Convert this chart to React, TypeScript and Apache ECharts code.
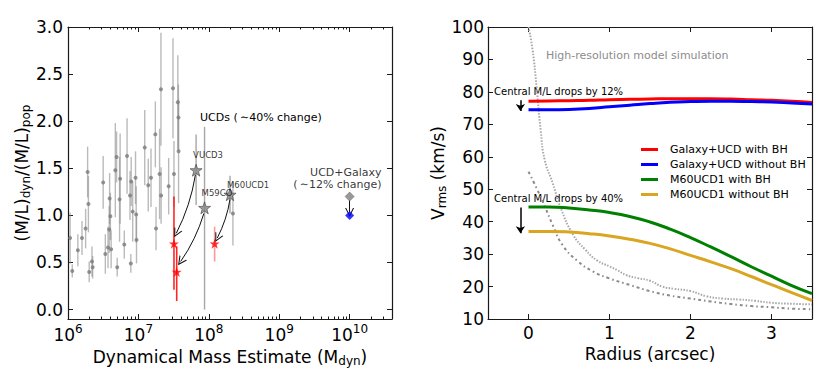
import React, { useEffect, useRef } from 'react';
import * as echarts from 'echarts';

const FONT = "'DejaVu Sans', sans-serif";

// ---------------- Left panel data ----------------
const ucdMass = [1.07e6, 1.15e6, 1.38e6, 1.58e6, 1.78e6, 1.9e6, 1.95e6, 2.0e6, 2.19e6, 2.24e6, 3.16e6, 3.39e6, 3.7e6, 3.9e6, 4.0e6, 4.1e6, 3.85e6, 4.7e6, 4.9e6, 5.0e6, 5.4e6, 5.5e6, 6.3e6, 6.9e6, 7.6e6, 7.8e6, 7.9e6, 8.3e6, 9.1e6, 9.3e6, 9.4e6, 1.23e7, 1.38e7, 1.51e7, 1.74e7, 1.78e7, 2.0e7, 2.09e7, 2.1e7, 2.69e7, 3.1e7, 3.2e7, 3.63e7, 3.7e7, 3.72e7, 2.2e8];
const ucdRatio = [0.76, 0.41, 0.63, 0.76, 0.86, 1.46, 1.12, 0.40, 0.51, 0.45, 1.35, 0.59, 0.66, 1.18, 0.99, 0.64, 0.85, 1.48, 1.62, 0.45, 1.17, 1.39, 0.69, 1.63, 1.21, 0.49, 1.36, 1.04, 1.40, 1.01, 0.74, 1.72, 1.32, 1.40, 1.86, 0.86, 1.44, 2.34, 1.21, 1.31, 2.35, 1.44, 2.2, 2.04, 1.68, 1.02];
const ucdErr = [0.27, 0.07, 0.17, 0.18, 0.21, 0.27, 0.3, 0.11, 0.16, 0.12, 0.28, 0.21, 0.22, 0.27, 0.25, 0.2, 0.25, 0.5, 0.27, 0.1, 0.45, 0.48, 0.15, 0.4, 0.26, 0.1, 0.26, 0.32, 0.28, 0.3, 0.25, 0.4, 0.28, 0.31, 0.35, 0.23, 0.48, 0.6, 0.3, 0.3, 0.53, 0.35, 0.5, 0.35, 0.55, 0.34];

const bhUcdNames = ['VUCD3', 'M59CO', 'M60UCD1'];
const noBhMass = [6.6e7, 8.7e7, 2.0e8];
const noBhRatio = [1.48, 1.08, 1.22];
const noBhErrLow = [0.37, 1.08, 0.2];
const noBhErrHigh = [0.38, 0.86, 0.2];
const withBhMass = [3.2e7, 3.5e7, 1.21e8];
const withBhRatio = [0.70, 0.40, 0.70];
const withBhErrLow = [0.49, 0.31, 0.19];
const withBhErrHigh = [0.50, 0.27, 0.18];
const ucdArrowFrom = [[6.45e7, 1.43], [8.5e7, 1.02], [2.0e8, 1.17]];
const ucdArrowTo = [[3.45e7, 0.81], [3.98e7, 0.51], [1.32e8, 0.76]];

const galaxyMass = [1e10];
const galaxyRatioNoBh = [1.2];
const galaxyRatioBh = [1.0];
const galaxyArrow = [[1e10, 1.16], [1e10, 1.03]];

const ratioTicks = [0, 0.5, 1.0, 1.5, 2.0, 2.5, 3.0];
const massMin = 1e6;
const massMax = 4e10;

// ---------------- Right panel data ----------------
const radius = [0, 0.25, 0.5, 0.75, 1.0, 1.25, 1.5, 1.75, 2.0, 2.25, 2.5, 2.75, 3.0, 3.25, 3.5];
const galaxyWithBh = [77.1, 77.2, 77.3, 77.4, 77.6, 77.7, 77.8, 77.9, 77.9, 77.9, 77.8, 77.6, 77.4, 77.1, 76.7];
const galaxyWithoutBh = [74.5, 74.5, 74.6, 74.9, 75.4, 75.9, 76.4, 76.8, 77.0, 77.1, 77.1, 77.0, 76.9, 76.6, 76.3];
const m60WithBh = [44.5, 44.5, 44.2, 43.6, 42.8, 41.6, 39.9, 37.7, 35.1, 32.2, 29.2, 26.1, 23.2, 20.3, 17.8];
const m60WithoutBh = [37.0, 37.0, 36.8, 36.3, 35.6, 34.6, 33.3, 31.6, 29.6, 27.6, 25.5, 23.1, 20.6, 18.1, 15.7];

const hiresGalaxyR = [0, 0.05, 0.1, 0.15, 0.2, 0.3, 0.4, 0.55, 0.7, 0.85, 1.0, 1.1, 1.2, 1.35, 1.5, 1.65, 1.8, 2.0, 2.2, 2.4, 2.6, 2.8, 3.0, 3.25, 3.5];
const hiresGalaxyV = [100, 93, 81.5, 68.2, 59, 51.8, 44.1, 36.0, 31.4, 28.0, 26.2, 25.0, 23.6, 22.6, 21.8, 20.0, 19.3, 18.6, 17.0, 16.3, 16.0, 15.6, 15.0, 14.7, 14.5];
const hiresUcdR = [0, 0.1, 0.2, 0.3, 0.42, 0.6, 0.8, 1.0, 1.25, 1.5, 1.75, 2.0, 2.25, 2.5, 2.75, 3.0, 3.25, 3.5];
const hiresUcdV = [55.4, 50.3, 44.8, 38.9, 32.8, 28.0, 24.6, 22.5, 20.5, 18.6, 17.2, 16.3, 15.4, 14.6, 14.0, 13.6, 13.2, 13.0];

const radiusTicks = [0, 1, 2, 3];
const dropArrow12 = [[-0.1, 77.4], [-0.1, 74.1]];
const dropArrow40 = [[-0.1, 44.4], [-0.1, 36.4]];

const legendNames = ['Galaxy+UCD with BH', 'Galaxy+UCD without BH', 'M60UCD1 with BH', 'M60UCD1 without BH'];

// ---------------- helpers ----------------
const STAR = 'path://M50,2 L61.8,36.2 L97.6,36.2 L68.9,57.6 L79.4,92.4 L50,71.5 L20.6,92.4 L31.1,57.6 L2.4,36.2 L38.2,36.2 Z';
const OPEN_ARROW = 'path://M0,10 L4,0 L8,10 L7,10 L4,2.6 L1,10 Z';

const minorLogTicks: number[] = [];
for (let e = 6; e <= 10; e++) {
  for (let k = 2; k <= 9; k++) {
    const v = k * Math.pow(10, e);
    if (v < massMax) minorLogTicks.push(Math.log10(v));
  }
}

const AX = '#1a1a1a';
const boxLine = { show: true, onZero: false, lineStyle: { color: AX, width: 1.2 } };
const noLine = { show: false, onZero: false };
const inTick = (len: number, extra: any = {}) => ({ show: true, inside: true, length: len, lineStyle: { color: AX, width: 1 }, ...extra });

function errRender(colorFn: (i: number) => string, width: number) {
  return (params: any, api: any) => {
    const x = api.value(0);
    const p1 = api.coord([x, api.value(1)]);
    const p2 = api.coord([x, api.value(2)]);
    return {
      type: 'line',
      shape: { x1: p1[0], y1: p1[1], x2: p2[0], y2: p2[1] },
      style: { stroke: colorFn(params.dataIndex), lineWidth: width },
    };
  };
}

function buildOption(): any {
  const supFmt = (v: number) => {
    const e = Math.log10(v);
    if (Math.abs(e - Math.round(e)) < 1e-6) return `{b|10}{s|${Math.round(e)}}`;
    return '';
  };
  const smoothCfg = { smooth: true };
  return {
    animation: false,
    backgroundColor: '#fff',
    textStyle: { fontFamily: FONT },
    grid: [
      { left: 68, top: 27, width: 324, height: 292 },
      { left: 488, top: 27, width: 324, height: 292 },
    ],
    legend: {
      data: legendNames,
      orient: 'vertical',
      left: 636,
      top: 139,
      itemWidth: 17,
      itemHeight: 3,
      itemGap: 4,
      icon: 'rect',
      textStyle: { fontSize: 11, fontFamily: FONT, color: '#000', padding: [0, 0, 0, 7] },
    },
    xAxis: [
      {
        type: 'log', logBase: 10, gridIndex: 0, min: massMin, max: massMax, position: 'bottom',
        axisLine: boxLine, axisTick: inTick(5), splitLine: { show: false },
        axisLabel: {
          formatter: supFmt, margin: 4, color: '#000', fontFamily: FONT,
          rich: {
            b: { fontSize: 17, fontFamily: FONT, color: '#000' },
            s: { fontSize: 12, fontFamily: FONT, color: '#000', padding: [0, 0, 12, 0] },
          },
        },
        name: 'Dynamical Mass Estimate (M{sub|dyn})', nameLocation: 'middle', nameGap: 23,
        nameTextStyle: {
          fontSize: 17, fontFamily: FONT, color: '#000',
          rich: { sub: { fontSize: 12, fontFamily: FONT, color: '#000', padding: [8, 0, 0, 0] } },
        },
      },
      {
        type: 'log', logBase: 10, gridIndex: 0, min: massMin, max: massMax, position: 'top',
        axisLine: boxLine, axisTick: inTick(5), axisLabel: { show: false }, splitLine: { show: false },
      },
      {
        type: 'value', gridIndex: 0, min: 6, max: Math.log10(massMax), position: 'bottom',
        axisLine: noLine, axisTick: inTick(2.5, { customValues: minorLogTicks }),
        axisLabel: { show: false }, splitLine: { show: false },
      },
      {
        type: 'value', gridIndex: 0, min: 6, max: Math.log10(massMax), position: 'top',
        axisLine: noLine, axisTick: inTick(2.5, { customValues: minorLogTicks }),
        axisLabel: { show: false }, splitLine: { show: false },
      },
      {
        type: 'value', gridIndex: 1, min: -0.5, max: 3.5, position: 'bottom',
        axisLine: boxLine, axisTick: inTick(5, { customValues: radiusTicks }), splitLine: { show: false },
        axisLabel: { customValues: radiusTicks, fontSize: 17, color: '#000', fontFamily: FONT, margin: 5 },
        name: 'Radius (arcsec)', nameLocation: 'middle', nameGap: 24,
        nameTextStyle: { fontSize: 17, fontFamily: FONT, color: '#000' },
      },
      {
        type: 'value', gridIndex: 1, min: -0.5, max: 3.5, position: 'top',
        axisLine: boxLine, axisTick: inTick(5, { customValues: radiusTicks }), axisLabel: { show: false }, splitLine: { show: false },
      },
    ],
    yAxis: [
      {
        type: 'value', gridIndex: 0, min: -0.1, max: 3.0, position: 'left',
        axisLine: boxLine, axisTick: inTick(5, { customValues: ratioTicks }), splitLine: { show: false },
        axisLabel: { customValues: ratioTicks, formatter: (v: number) => v.toFixed(1), fontSize: 17, color: '#000', fontFamily: FONT, margin: 5 },
        name: '(M/L){sub|dyn}/(M/L){sub|pop}', nameLocation: 'middle', nameGap: 25, nameRotate: 90,
        nameTextStyle: {
          fontSize: 17, fontFamily: FONT, color: '#000',
          rich: { sub: { fontSize: 12, fontFamily: FONT, color: '#000', padding: [8, 0, 0, 0] } },
        },
      },
      {
        type: 'value', gridIndex: 0, min: -0.1, max: 3.0, position: 'right',
        axisLine: boxLine, axisTick: inTick(5, { customValues: ratioTicks }), axisLabel: { show: false }, splitLine: { show: false },
      },
      {
        type: 'value', gridIndex: 1, min: 10, max: 100, interval: 10, position: 'left',
        axisLine: boxLine, axisTick: inTick(5), splitLine: { show: false },
        axisLabel: { fontSize: 17, color: '#000', fontFamily: FONT, margin: 4 },
        name: 'V{sub|rms} (km/s)', nameLocation: 'middle', nameGap: 25, nameRotate: 90,
        nameTextStyle: {
          fontSize: 17, fontFamily: FONT, color: '#000',
          rich: { sub: { fontSize: 12, fontFamily: FONT, color: '#000', padding: [8, 0, 0, 0] } },
        },
      },
      {
        type: 'value', gridIndex: 1, min: 10, max: 100, interval: 10, position: 'right',
        axisLine: boxLine, axisTick: inTick(5), axisLabel: { show: false }, splitLine: { show: false },
      },
    ],
    series: [
      // gray UCD error bars
      {
        type: 'custom', xAxisIndex: 0, yAxisIndex: 0, z: 2,
        data: ucdMass.map((m, i) => [m, ucdRatio[i] - ucdErr[i], ucdRatio[i] + ucdErr[i]]),
        encode: { x: 0, y: [1, 2] },
        renderItem: errRender(() => 'rgba(140,140,140,0.6)', 1.4),
      },
      {
        type: 'scatter', xAxisIndex: 0, yAxisIndex: 0, z: 3,
        symbol: 'circle', symbolSize: 4,
        itemStyle: { color: '#7a7a7a' },
        data: ucdMass.map((m, i) => [m, ucdRatio[i]]),
      },
      // error bars of the three BH UCDs without BH
      {
        type: 'custom', xAxisIndex: 0, yAxisIndex: 0, z: 2,
        data: noBhMass.map((m, i) => [m, noBhRatio[i] - noBhErrLow[i], noBhRatio[i] + noBhErrHigh[i]]),
        encode: { x: 0, y: [1, 2] },
        renderItem: errRender(() => 'rgba(130,130,130,0.7)', 1.4),
      },
      // red error bars
      {
        type: 'custom', xAxisIndex: 0, yAxisIndex: 0, z: 2,
        data: withBhMass.map((m, i) => [m, withBhRatio[i] - withBhErrLow[i], withBhRatio[i] + withBhErrHigh[i]]),
        encode: { x: 0, y: [1, 2] },
        renderItem: errRender((i) => (i === 2 ? 'rgba(255,0,0,0.4)' : 'rgba(255,0,0,0.85)'), 1.6),
      },
      // arrows UCD -> with BH
      {
        type: 'lines', coordinateSystem: 'cartesian2d', xAxisIndex: 0, yAxisIndex: 0, z: 4,
        symbol: ['none', OPEN_ARROW], symbolSize: [7, 9],
        lineStyle: { color: '#111', width: 1, opacity: 1, curveness: 0.08 },
        data: ucdArrowFrom.map((f, i) => ({ coords: [f, ucdArrowTo[i]] })),
      },
      {
        type: 'lines', coordinateSystem: 'cartesian2d', xAxisIndex: 0, yAxisIndex: 0, z: 4,
        symbol: ['none', OPEN_ARROW], symbolSize: [7, 9],
        lineStyle: { color: '#111', width: 1, opacity: 1, curveness: 0 },
        data: [{ coords: galaxyArrow }],
      },
      // gray stars
      {
        type: 'scatter', xAxisIndex: 0, yAxisIndex: 0, z: 5,
        symbol: STAR, symbolSize: 12,
        itemStyle: { color: '#858585', borderColor: '#444', borderWidth: 0.8 },
        label: {
          show: true, formatter: '{b}', position: 'top', align: 'left', distance: 4,
          fontSize: 8.5, fontFamily: FONT, color: '#000',
        },
        data: noBhMass.map((m, i) => ({
          name: bhUcdNames[i],
          value: [m, noBhRatio[i]],
          label: { offset: i === 2 ? [-3, 5] : [-3, 0] },
        })),
      },
      // red stars
      {
        type: 'scatter', xAxisIndex: 0, yAxisIndex: 0, z: 5,
        symbol: STAR, symbolSize: 10,
        itemStyle: { color: '#ff0000' },
        data: withBhMass.map((m, i) => [m, withBhRatio[i]]),
      },
      // galaxy diamonds
      {
        type: 'scatter', xAxisIndex: 0, yAxisIndex: 0, z: 5,
        symbol: 'diamond', symbolSize: 9,
        itemStyle: { color: '#808080', borderColor: '#555', borderWidth: 0.6 },
        label: {
          show: true, formatter: 'UCD+Galaxy\n(\u2009\u223c12% change)', position: 'top', align: 'right',
          offset: [32, 4], fontSize: 11, fontFamily: FONT, color: '#000', lineHeight: 12,
        },
        data: galaxyMass.map((m, i) => [m, galaxyRatioNoBh[i]]),
      },
      {
        type: 'scatter', xAxisIndex: 0, yAxisIndex: 0, z: 5,
        symbol: 'diamond', symbolSize: 9,
        itemStyle: { color: '#0000ff' },
        data: galaxyMass.map((m, i) => [m, galaxyRatioBh[i]]),
      },

      // ----- right panel -----
      {
        type: 'line', xAxisIndex: 4, yAxisIndex: 2, z: 2, ...smoothCfg, showSymbol: false,
        lineStyle: { color: '#a8a8a8', width: 2, type: [1.5, 1.5] },
        data: hiresGalaxyR.map((r, i) => [r, hiresGalaxyV[i]]),
      },
      {
        type: 'line', xAxisIndex: 4, yAxisIndex: 2, z: 2, ...smoothCfg, showSymbol: false,
        lineStyle: { color: '#8a8a8a', width: 2, type: [3, 3, 1.5, 3] },
        data: hiresUcdR.map((r, i) => [r, hiresUcdV[i]]),
      },
      {
        name: legendNames[0], type: 'line', xAxisIndex: 4, yAxisIndex: 2, z: 3, ...smoothCfg, showSymbol: false,
        itemStyle: { color: '#ff0000' }, lineStyle: { color: '#ff0000', width: 3 },
        data: radius.map((r, i) => [r, galaxyWithBh[i]]),
      },
      {
        name: legendNames[1], type: 'line', xAxisIndex: 4, yAxisIndex: 2, z: 3, ...smoothCfg, showSymbol: false,
        itemStyle: { color: '#0000ff' }, lineStyle: { color: '#0000ff', width: 3 },
        data: radius.map((r, i) => [r, galaxyWithoutBh[i]]),
      },
      {
        name: legendNames[2], type: 'line', xAxisIndex: 4, yAxisIndex: 2, z: 3, ...smoothCfg, showSymbol: false,
        itemStyle: { color: '#008000' }, lineStyle: { color: '#008000', width: 3 },
        data: radius.map((r, i) => [r, m60WithBh[i]]),
      },
      {
        name: legendNames[3], type: 'line', xAxisIndex: 4, yAxisIndex: 2, z: 3, ...smoothCfg, showSymbol: false,
        itemStyle: { color: '#daa520' }, lineStyle: { color: '#daa520', width: 3 },
        data: radius.map((r, i) => [r, m60WithoutBh[i]]),
      },
      {
        type: 'lines', coordinateSystem: 'cartesian2d', xAxisIndex: 4, yAxisIndex: 2, z: 4,
        symbol: ['none', 'arrow'], symbolSize: [5, 7],
        lineStyle: { color: '#000', width: 1.5, opacity: 1, curveness: 0 },
        data: [{ coords: dropArrow12 }, { coords: dropArrow40 }],
      },
    ],
    graphic: [
      {
        type: 'text', x: 200, y: 117,
        style: { text: 'UCDs (\u2009\u223c40% change)', fontSize: 11, fontFamily: FONT, fill: '#000', verticalAlign: 'middle' },
      },
      {
        type: 'text', x: 546, y: 55,
        style: { text: 'High-resolution model simulation', fontSize: 11, fontFamily: FONT, fill: '#8c8c8c', verticalAlign: 'middle' },
      },
      {
        type: 'text', x: 494, y: 91,
        style: { text: 'Central M/L drops by 12%', fontSize: 10, fontFamily: FONT, fill: '#000', verticalAlign: 'middle' },
      },
      {
        type: 'text', x: 494, y: 198,
        style: { text: 'Central M/L drops by 40%', fontSize: 10, fontFamily: FONT, fill: '#000', verticalAlign: 'middle' },
      },
    ],
  };
}

export default function App() {
  const ref = useRef<HTMLDivElement>(null);
  useEffect(() => {
    if (!ref.current) return;
    const chart = echarts.init(ref.current, undefined, { renderer: 'svg' });
    chart.setOption(buildOption());
    return () => chart.dispose();
  }, []);
  return (
    <div
      ref={ref}
      style={{ position: 'fixed', left: 0, top: 0, width: 831, height: 385, background: '#fff' }}
    />
  );
}
